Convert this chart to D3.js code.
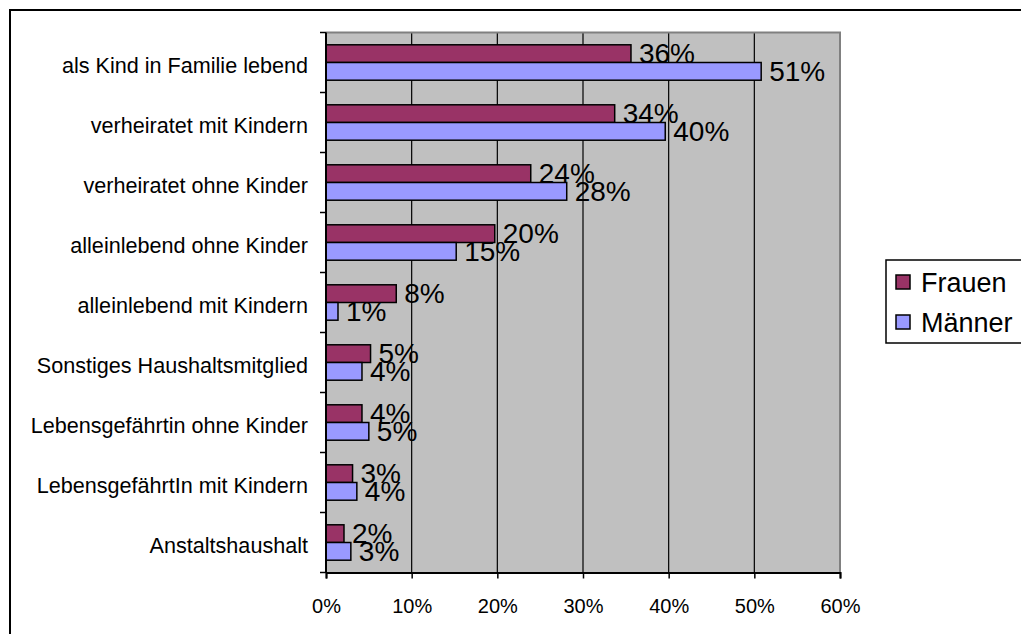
<!DOCTYPE html>
<html>
<head>
<meta charset="utf-8">
<script src="https://cdn.jsdelivr.net/npm/d3@7"></script>
<style>
  html, body { margin: 0; padding: 0; background: #fff; }
  svg { display: block; font-family: "Liberation Sans", Arial, sans-serif; }
</style>
</head>
<body>
<svg id="chart" width="1021" height="634"></svg>
<script>
const categories = [
  "als Kind in Familie lebend",
  "verheiratet mit Kindern",
  "verheiratet ohne Kinder",
  "alleinlebend ohne Kinder",
  "alleinlebend mit Kindern",
  "Sonstiges Haushaltsmitglied",
  "Lebensgefährtin ohne Kinder",
  "LebensgefährtIn mit Kindern",
  "Anstaltshaushalt"
];
const seriesNames = ["Frauen", "Männer"];
const frauen = [0.356, 0.337, 0.239, 0.197, 0.082, 0.052, 0.042, 0.031, 0.021];
const maenner = [0.508, 0.396, 0.281, 0.152, 0.014, 0.042, 0.050, 0.036, 0.029];
const xTicks = [0, 0.1, 0.2, 0.3, 0.4, 0.5, 0.6];
const colors = ["#993366", "#9999FF"];

(function () {
const svg = d3.select("#chart");

// outer chart border
svg.append("rect")
  .attr("x", 10).attr("y", 10)
  .attr("width", 1100).attr("height", 700)
  .attr("fill", "#fff").attr("stroke", "#000").attr("stroke-width", 2);

const pLeft = 326, pRight = 840, pTop = 32.5, pBottom = 572.5;

const x = d3.scaleLinear().domain([0, 0.6]).range([pLeft, pRight]);
const y = d3.scaleBand().domain(categories).range([pTop, pBottom]).paddingInner(0).paddingOuter(0);
const bw = y.bandwidth();
const ySeries = d3.scaleBand().domain(seriesNames).range([bw * 0.205, bw * 0.795]).padding(0);

// plot area background
svg.append("rect")
  .attr("x", pLeft).attr("y", pTop)
  .attr("width", pRight - pLeft).attr("height", pBottom - pTop)
  .attr("fill", "#C0C0C0");

// gridlines
svg.append("g").selectAll("line")
  .data(xTicks.slice(1, -1))
  .join("line")
  .attr("x1", d => x(d)).attr("x2", d => x(d))
  .attr("y1", pTop).attr("y2", pBottom)
  .attr("stroke", "#000").attr("stroke-width", 1.2);

// plot area border (top & right)
svg.append("path")
  .attr("d", `M${pLeft},${pTop}H${pRight}V${pBottom}`)
  .attr("fill", "none").attr("stroke", "#808080").attr("stroke-width", 2);

// bars
const data = categories.map((c, i) => ({ c, vals: [frauen[i], maenner[i]] }));
const groups = svg.append("g").selectAll("g")
  .data(data).join("g")
  .attr("transform", d => `translate(0,${y(d.c)})`);

groups.selectAll("rect")
  .data(d => d.vals.map((v, j) => ({ v, s: seriesNames[j], j })))
  .join("rect")
  .attr("x", x(0))
  .attr("y", d => ySeries(d.s))
  .attr("width", d => x(d.v) - x(0))
  .attr("height", ySeries.bandwidth())
  .attr("fill", d => colors[d.j])
  .attr("stroke", "#000").attr("stroke-width", 1.5);

// value labels
const fmt = d3.format(".0%");
const vfs = 28;
groups.selectAll("text")
  .data(d => d.vals.map((v, j) => ({ v, s: seriesNames[j], j })))
  .join("text")
  .attr("x", d => x(d.v) + 8)
  .attr("y", d => ySeries(d.s) + ySeries.bandwidth() / 2 + vfs * 0.35)
  .attr("font-size", vfs)
  .attr("fill", "#000")
  .text(d => fmt(d.v));

// y axis
const yg = svg.append("g").attr("transform", `translate(${pLeft},0)`);
yg.append("line").attr("x1", 0).attr("x2", 0).attr("y1", pTop).attr("y2", pBottom)
  .attr("stroke", "#000").attr("stroke-width", 2);
yg.selectAll("line.tick")
  .data(d3.range(categories.length + 1))
  .join("line").attr("class", "tick")
  .attr("x1", -6).attr("x2", 0)
  .attr("y1", i => pTop + i * bw).attr("y2", i => pTop + i * bw)
  .attr("stroke", "#000").attr("stroke-width", 1.5);
yg.selectAll("text")
  .data(categories).join("text")
  .attr("x", -18)
  .attr("y", d => y(d) + bw / 2 + 10.5)
  .attr("text-anchor", "end")
  .attr("font-size", 21.6)
  .attr("fill", "#000")
  .text(d => d);

// x axis
const xAxis = d3.axisBottom(x).tickValues(xTicks).tickFormat(d3.format(".0%")).tickSize(6).tickPadding(20);
const xg = svg.append("g").attr("transform", `translate(0,${pBottom})`).call(xAxis);
xg.select(".domain").attr("stroke", "#000").attr("stroke-width", 2);
xg.selectAll(".tick line").attr("stroke", "#000").attr("stroke-width", 1.5);
xg.selectAll(".tick text")
  .attr("font-size", 20)
  .attr("font-family", "Liberation Sans, Arial, sans-serif")
  .attr("fill", "#000");

// legend
const lg = svg.append("g");
lg.append("rect")
  .attr("x", 886).attr("y", 260)
  .attr("width", 200).attr("height", 83)
  .attr("fill", "#fff").attr("stroke", "#000").attr("stroke-width", 1.5);
const items = lg.selectAll("g.item")
  .data(seriesNames).join("g").attr("class", "item")
  .attr("transform", (d, i) => `translate(0,${282 + i * 40})`);
items.append("rect")
  .attr("x", 896).attr("y", -7)
  .attr("width", 14).attr("height", 14)
  .attr("fill", (d, i) => colors[i])
  .attr("stroke", "#000").attr("stroke-width", 1.5);
items.append("text")
  .attr("x", 921)
  .attr("y", 9.5)
  .attr("font-size", 27)
  .attr("fill", "#000")
  .text(d => d);
})();
</script>
</body>
</html>
